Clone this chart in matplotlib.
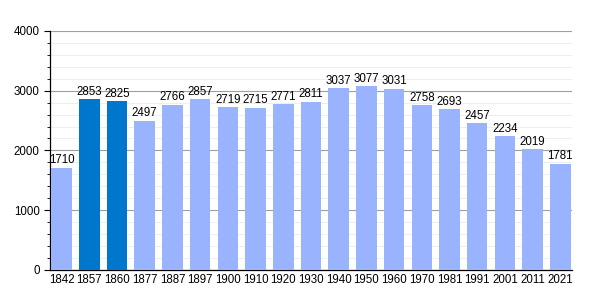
import matplotlib
matplotlib.use("Agg")
import matplotlib.pyplot as plt
from matplotlib.ticker import MultipleLocator

plt.rcParams["font.family"] = ["Liberation Sans", "DejaVu Sans"]

years = ["1842", "1857", "1860", "1877", "1887", "1897", "1900", "1910", "1920", "1930",
         "1940", "1950", "1960", "1970", "1981", "1991", "2001", "2011", "2021"]
population = [1710, 2853, 2825, 2497, 2766, 2857, 2719, 2715, 2771, 2811,
              3037, 3077, 3031, 2758, 2693, 2457, 2234, 2019, 1781]
highlight = ["1857", "1860"]

light = "#99b3ff"
dark = "#0077cc"

fig = plt.figure(figsize=(6, 3), dpi=100)
ax = fig.add_axes([0.0833, 0.1, 0.87, 0.797])

w = 0.74
x = list(range(len(years)))
colors = [dark if y in highlight else light for y in years]
ax.bar(x, population, width=w, color=colors, zorder=3)
for xi, v in zip(x, population):
    ax.text(xi, v + 25, str(v), ha="center", va="bottom", fontsize=8.3, zorder=4)

ax.set_xlim(-w / 2 - 0.05, len(years) - 1 + w / 2 + 0.05)
ax.set_ylim(0, 4000)
ax.set_xticks(x)
ax.set_xticklabels(years, fontsize=8.3)
ax.yaxis.set_major_locator(MultipleLocator(1000))
ax.yaxis.set_minor_locator(MultipleLocator(200))
ax.tick_params(axis="y", labelsize=8.3, length=4, width=0.8)
ax.tick_params(axis="y", which="minor", length=2.5, width=0.6)
ax.tick_params(axis="x", length=0, pad=3)
ax.grid(axis="y", which="major", color="#a0a0a0", linewidth=0.8, zorder=0)
ax.grid(axis="y", which="minor", color="#ebebeb", linewidth=0.6, zorder=0)
for s in ["top", "right"]:
    ax.spines[s].set_visible(False)
ax.spines["left"].set_linewidth(0.9)
ax.spines["bottom"].set_linewidth(0.9)

fig.savefig("out.png", dpi=100)
